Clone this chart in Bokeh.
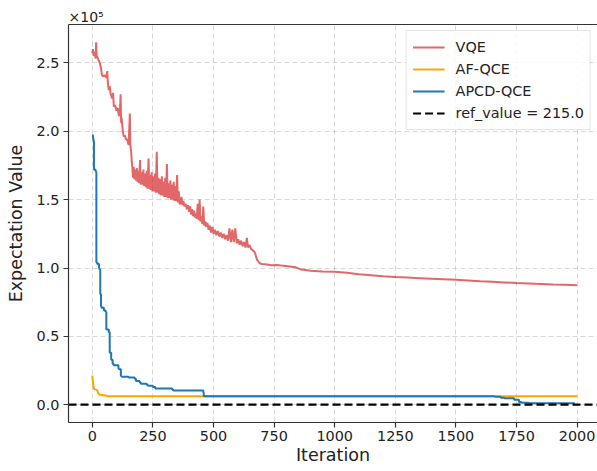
from bokeh.plotting import figure
from bokeh.models import FixedTicker, Legend, LegendItem, LinearAxis, Range1d
from bokeh.embed import file_html
from bokeh.resources import INLINE

# ---- data (expectation values in units of 1e5) ----
# VQE, early descent
vqe_iter_a = [0, 3, 6, 10, 14, 16, 18, 22, 26, 31, 36, 40, 46, 52, 58, 62, 64, 68, 72, 76, 82, 86, 89, 94,
              100, 105, 110, 114, 117, 119, 121, 126, 130, 134, 139, 144, 150, 155, 157, 160, 163]
vqe_e5_a = [2.57, 2.60, 2.55, 2.58, 2.53, 2.65, 2.55, 2.54, 2.52, 2.50, 2.46, 2.41, 2.40, 2.41, 2.39, 2.44,
            2.36, 2.30, 2.33, 2.27, 2.24, 2.28, 2.18, 2.19, 2.15, 2.17, 2.11, 2.14, 2.27, 2.06, 2.10,
            2.00, 1.96, 1.97, 1.94, 1.94, 1.90, 2.13, 1.90, 1.86, 1.78]
# VQE, noisy band
vqe_iter_b = [165, 168, 171, 174, 177, 180, 184, 187, 190, 193, 197, 200, 204, 207, 211, 214, 218, 221,
              225, 228, 232, 235, 238, 241, 245, 248, 252, 255, 259, 262, 266, 269, 273, 276, 280, 283,
              287, 290, 294, 297, 301, 304, 308, 311, 315, 318, 322, 325, 329, 332, 336, 339, 343, 346,
              350, 353, 357, 360]
vqe_e5_b = [1.74, 1.66, 1.74, 1.65, 1.72, 1.64, 1.73, 1.63, 1.71, 1.62, 1.79, 1.61, 1.70, 1.61, 1.72,
            1.60, 1.69, 1.59, 1.71, 1.58, 1.80, 1.58, 1.68, 1.57, 1.70, 1.56, 1.67, 1.56, 1.69, 1.55,
            1.85, 1.55, 1.66, 1.54, 1.65, 1.53, 1.67, 1.53, 1.63, 1.52, 1.66, 1.52, 1.76, 1.51, 1.62,
            1.51, 1.64, 1.50, 1.61, 1.50, 1.63, 1.49, 1.60, 1.49, 1.68, 1.48, 1.56, 1.47]
# VQE, second noisy stretch
vqe_iter_c = [364, 368, 372, 376, 380, 385, 390, 395, 400, 404, 408, 412, 416, 420, 423, 427, 431, 435,
              439, 443, 446, 450, 454, 458, 462, 466, 470, 475, 480, 485, 490, 495, 500, 506, 512, 518,
              524, 530, 536, 542, 548, 554, 560, 566, 572, 578, 584, 590, 596, 602, 608, 614, 620, 626,
              632, 638, 642, 648, 655, 662, 670, 680, 690, 700]
vqe_e5_c = [1.47, 1.52, 1.46, 1.49, 1.45, 1.47, 1.43, 1.46, 1.41, 1.45, 1.39, 1.43, 1.38, 1.42, 1.37,
            1.40, 1.36, 1.47, 1.35, 1.50, 1.34, 1.38, 1.32, 1.45, 1.31, 1.34, 1.30, 1.33, 1.28, 1.31,
            1.26, 1.30, 1.25, 1.28, 1.24, 1.27, 1.23, 1.26, 1.22, 1.25, 1.21, 1.24, 1.20, 1.29, 1.19,
            1.28, 1.19, 1.29, 1.18, 1.21, 1.17, 1.20, 1.16, 1.19, 1.15, 1.22, 1.15, 1.17, 1.14, 1.13,
            1.115, 1.06, 1.035, 1.03]
# VQE, slow tail
vqe_iter_d = [720, 740, 760, 780, 800, 820, 840, 860, 880, 900, 950, 1000, 1050, 1100, 1150, 1200,
              1250, 1300, 1350, 1400, 1450, 1500, 1550, 1600, 1650, 1700, 1750, 1800, 1850, 1900,
              1950, 2000]
vqe_e5_d = [1.025, 1.02, 1.022, 1.018, 1.015, 1.01, 1.005, 0.99, 0.985, 0.98, 0.975, 0.972, 0.965,
            0.955, 0.948, 0.94, 0.934, 0.93, 0.926, 0.922, 0.918, 0.914, 0.909, 0.904, 0.90, 0.895,
            0.89, 0.887, 0.884, 0.88, 0.878, 0.875]

af_iter = [0, 4, 7, 20, 24, 28, 40, 60, 64, 2000]
af_e5 = [0.214, 0.15, 0.117, 0.108, 0.09, 0.075, 0.072, 0.066, 0.063, 0.063]

apcd_iter = [0, 3, 5, 7, 13, 16, 17, 21, 28, 30, 33, 36, 38, 48, 55, 58, 68, 72, 78, 84, 88, 108, 110,
             118, 121, 150, 175, 180, 195, 200, 225, 230, 250, 260, 330, 335, 458, 460, 1645, 1660,
             1685, 1700, 1740, 1760, 1770, 1800, 1990]
apcd_e5 = [1.97, 1.95, 1.93, 1.72, 1.71, 1.70, 1.04, 1.03, 1.00, 0.99, 0.81, 0.72, 0.71, 0.69, 0.68,
           0.55, 0.53, 0.38, 0.33, 0.30, 0.29, 0.265, 0.26, 0.21, 0.205, 0.20, 0.19, 0.175, 0.165,
           0.155, 0.145, 0.14, 0.13, 0.12, 0.11, 0.105, 0.09, 0.063, 0.063, 0.06, 0.052, 0.048,
           0.037, 0.02, 0.015, 0.012, 0.012]

ref_value = 215.0
scale = 1e5

x_ticks = [0, 250, 500, 750, 1000, 1250, 1500, 1750, 2000]
y_ticks = [0.0, 0.5, 1.0, 1.5, 2.0, 2.5]
y_tick_labels = ["0.0", "0.5", "1.0", "1.5", "2.0", "2.5"]

x_lo, x_hi = -98, 2084
y_lo, y_hi = -0.129, 2.78

vqe_iter = vqe_iter_a + vqe_iter_b + vqe_iter_c + vqe_iter_d
vqe_e5 = vqe_e5_a + vqe_e5_b + vqe_e5_c + vqe_e5_d

FONT = "DejaVu Sans"

p = figure(width=597, height=471, output_backend="svg", toolbar_location=None,
           x_range=Range1d(x_lo, x_hi), y_range=Range1d(y_lo, y_hi),
           min_border_left=68, min_border_top=24, min_border_right=0, min_border_bottom=49,
           title="×10⁵")
p.outline_line_color = None
p.background_fill_color = "white"
p.border_fill_color = "white"

p.title.text_font = FONT
p.title.text_font_size = "14px"
p.title.text_font_style = "normal"
p.title.text_color = "#222222"
p.title.align = "left"
p.title.standoff = 0

# grid
for g in (p.xgrid, p.ygrid):
    g.grid_line_color = "#b0b0b0"
    g.grid_line_alpha = 0.5
    g.grid_line_dash = "5 3"
    g.grid_line_width = 1
p.xgrid.ticker = FixedTicker(ticks=x_ticks)
p.ygrid.ticker = FixedTicker(ticks=y_ticks)

# axes
p.xaxis.ticker = FixedTicker(ticks=x_ticks)
p.yaxis.ticker = FixedTicker(ticks=y_ticks)
p.yaxis.major_label_overrides = {t: l for t, l in zip(y_ticks, y_tick_labels)}
p.xaxis.axis_label = "Iteration"
p.yaxis.axis_label = "Expectation Value"
for ax in (p.xaxis[0], p.yaxis[0]):
    ax.axis_line_color = "#333333"
    ax.axis_line_width = 1.2
    ax.major_tick_line_color = "#333333"
    ax.major_tick_line_width = 1.2
    ax.major_tick_out = 5
    ax.major_tick_in = 0
    ax.minor_tick_out = 0
    ax.minor_tick_in = 0
    ax.major_label_text_font = FONT
    ax.major_label_text_font_size = "14.4px"
    ax.major_label_text_color = "#222222"
    ax.axis_label_text_font = FONT
    ax.axis_label_text_font_size = "17.5px"
    ax.axis_label_text_font_style = "normal"
    ax.axis_label_text_color = "#222222"
p.xaxis.major_label_standoff = 3
p.yaxis.major_label_standoff = 4
p.xaxis.axis_label_standoff = 1
p.yaxis.axis_label_standoff = 8

top = LinearAxis(ticker=FixedTicker(ticks=[]), major_label_text_font_size="0px",
                 major_tick_out=0, major_tick_in=0, minor_tick_out=0, minor_tick_in=0,
                 axis_line_color="#333333", axis_line_width=1.2, major_label_standoff=0)
p.add_layout(top, "above")

# lines
r_vqe = p.line(vqe_iter, vqe_e5, line_color="#d62728", line_alpha=0.7, line_width=2)
r_af = p.line(af_iter, af_e5, line_color="#ffa500", line_width=2)
r_apcd = p.step(apcd_iter, apcd_e5, mode="after", line_color="#1f77b4", line_width=2)
r_ref = p.line([x_lo, x_hi], [ref_value / scale, ref_value / scale],
               line_color="black", line_width=2.2, line_dash="8 4")

legend = Legend(items=[
    LegendItem(label="VQE", renderers=[r_vqe]),
    LegendItem(label="AF-QCE", renderers=[r_af]),
    LegendItem(label="APCD-QCE", renderers=[r_apcd]),
    LegendItem(label="ref_value = 215.0", renderers=[r_ref]),
], location="top_right")
legend.margin = 6
legend.padding = 6
legend.spacing = 2
legend.glyph_width = 32
legend.glyph_height = 20
legend.label_height = 20
legend.label_standoff = 11
legend.label_text_font = FONT
legend.label_text_font_size = "14.4px"
legend.label_text_color = "#222222"
legend.border_line_color = "#cccccc"
legend.border_line_width = 1
legend.background_fill_color = "white"
legend.background_fill_alpha = 0.8
p.add_layout(legend)

open("out.html", "w").write(file_html(p, INLINE))
